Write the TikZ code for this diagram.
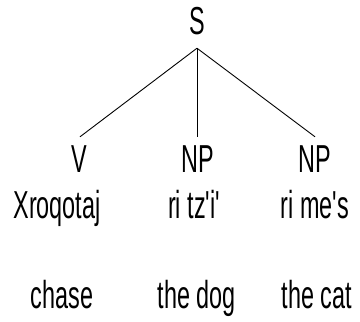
\documentclass[tikz,border=0pt]{standalone}
\usepackage{fontspec}
\setmainfont{Liberation Sans}[FakeStretch=0.6,Ligatures=TeXOff]

\tikzset{
  cat/.style={anchor=base,inner sep=0pt,text height=28pt,text depth=0pt,
    font=\fontsize{39}{39}\selectfont},
  word/.style={anchor=base,inner sep=0pt,font=\fontsize{39}{39}\selectfont}
}

\begin{document}
\begin{tikzpicture}[x=1pt,y=1pt]
    \useasboundingbox (0,0) rectangle (360,322);
    \node[cat] (s) at (197,287) {S};
    \node[cat] (v) at (79,149) {V};
    \node[cat] (np1) at (198,149) {NP};
    \node[cat] (np2) at (315,149) {NP};
    \node[word] (xroqotaj) at (57,103) {Xroqotaj};
    \node[word] (tzi) at (194,103) {ri tz'i'};
    \node[word] (mes) at (315,103) {ri me's};
    \node[word] (chase) at (62,13) {chase};
    \node[word] (dog) at (197,13) {the dog};
    \node[word] (cat) at (317,13) {the cat};
    \draw[line width=0.9pt] ([yshift=-13pt]s.south) -- ([xshift=1pt,yshift=8pt]v.north);
    \draw[line width=0.9pt] ([yshift=-13pt]s.south) -- ([xshift=-1pt,yshift=8pt]np1.north);
    \draw[line width=0.9pt] ([yshift=-13pt]s.south) -- ([yshift=8pt]np2.north);
 \end{tikzpicture}
\end{document}
